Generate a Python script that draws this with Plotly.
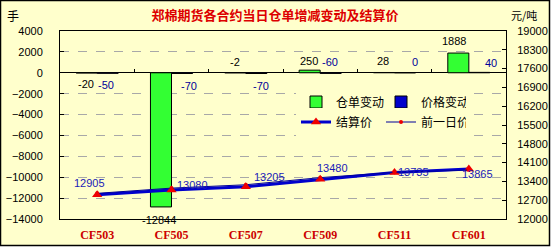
import plotly.graph_objects as go

# ---------------- data ----------------
categories = ["CF503", "CF505", "CF507", "CF509", "CF511", "CF601"]
warrant_change = [-20, -12844, -2, 250, 28, 1888]        # 仓单变动 (手)
price_change = [-50, -70, -70, -60, 0, 40]              # 价格变动 (元/吨)
settle_price = [12905, 13080, 13205, 13480, 13735, 13865]  # 结算价
prev_price = [12955, 13150, 13275, 13540, 13735, 13825]    # 前一日价

title_text = "郑棉期货各合约当日仓单增减变动及结算价"

# ---------------- style ----------------
BG = "#FFFFCC"
GREEN = "#33FF33"
BLUE = "#0000CC"
RED = "#DD0000"
NUM_FONT = "Arial"
CJK_FONT = "Noto Sans CJK SC"

# label pixel offsets (style only)
warrant_off = [(-11, -11.5), (-12.5, -13), (-11, 11), (-11, 9), (-11.5, 11), (-15, 12)]
price_off = [(9, -12), (17, -12.5), (15, -12), (10, 11), (20.5, 11), (22, 9)]
settle_off = [(-7.5, 12), (21, 5), (23.5, 10), (12, 11), (18.5, 0), (8.7, -5)]

fig = go.Figure()

fig.add_trace(go.Bar(
    x=categories, y=warrant_change, name="仓单变动",
    marker=dict(color=GREEN, line=dict(color="black", width=1)),
    xaxis="x", yaxis="y", legend="legend", hoverinfo="x+y",
))
fig.add_trace(go.Bar(
    x=categories, y=price_change, name="价格变动",
    marker=dict(color=BLUE, line=dict(color="black", width=1)),
    xaxis="x", yaxis="y", legend="legend", hoverinfo="x+y",
))
fig.add_trace(go.Scatter(
    x=categories, y=settle_price, name="结算价", mode="lines+markers",
    line=dict(color=BLUE, width=3),
    marker=dict(symbol="triangle-up", color="#EE0000", size=9),
    xaxis="x", yaxis="y2", legend="legend2",
))
fig.add_trace(go.Scatter(
    x=categories, y=prev_price, name="前一日价", mode="lines+markers",
    line=dict(color="#000099", width=1),
    marker=dict(symbol="circle", color="#EE0000", size=4),
    xaxis="x", yaxis="y2", legend="legend2",
))
# invisible helper so the zero-crossing category axis gets its categories
fig.add_trace(go.Scatter(
    x=categories, y=warrant_change, mode="markers", marker=dict(opacity=0),
    xaxis="x2", yaxis="y", showlegend=False, hoverinfo="skip",
))

annotations = []
for c, v, (dx, dy) in zip(categories, warrant_change, warrant_off):
    annotations.append(dict(x=c, y=v, xref="x", yref="y", text=str(v), showarrow=False,
                            xshift=dx, yshift=dy, font=dict(family=NUM_FONT, size=11, color="black")))
for c, v, (dx, dy) in zip(categories, price_change, price_off):
    annotations.append(dict(x=c, y=v, xref="x", yref="y", text=str(v), showarrow=False,
                            xshift=dx, yshift=dy, font=dict(family=NUM_FONT, size=11, color="#000099")))
for c, v, (dx, dy) in zip(categories, settle_price, settle_off):
    annotations.append(dict(x=c, y=v, xref="x", yref="y2", text=str(v), showarrow=False,
                            xshift=dx, yshift=dy, font=dict(family=NUM_FONT, size=11, color="#1A1AB8")))
annotations.append(dict(x=(13 - 60) / 446, y=(219 - 15) / 188, xref="paper", yref="paper", text="手",
                        xanchor="center", yanchor="middle",
                        showarrow=False, font=dict(family=CJK_FONT, size=12, color="black")))
annotations.append(dict(x=(524 - 60) / 446, y=(219 - 15) / 188, xref="paper", yref="paper", text="元/吨",
                        xanchor="center", yanchor="middle",
                        showarrow=False, font=dict(family=CJK_FONT, size=11, color="black")))

legend_common = dict(orientation="h", xanchor="left", yanchor="middle", bgcolor=BG,
                     borderwidth=0, font=dict(family=CJK_FONT, size=12, color="black"),
                     entrywidth=40, itemwidth=30, itemclick=False, itemdoubleclick=False)

fig.update_layout(
    width=555, height=250,
    margin=dict(l=60, r=49, t=31, b=31, autoexpand=False),
    paper_bgcolor="white", plot_bgcolor=BG,
    barmode="group", bargap=0.434, bargroupgap=0,
    title=dict(text=f"<b>{title_text}</b>", x=275 / 555, xref="container", xanchor="center",
               y=1 - 15 / 250, yref="container", yanchor="middle", automargin=False,
               font=dict(family=CJK_FONT, size=13, color=RED)),
    legend=dict(x=(296 - 60) / 446, y=(219 - 102) / 188, **legend_common),
    legend2=dict(x=(296 - 60) / 446, y=(219 - 122) / 188, **legend_common),
    xaxis=dict(type="category", categoryorder="array", categoryarray=categories,
               range=[-0.5, 5.5], showline=True, linecolor="black", linewidth=1, mirror=True,
               ticks="", showgrid=False, ticklabelstandoff=5, automargin=False,
               tickfont=dict(family="Liberation Serif", size=12, color="#CC0000", weight="bold")),
    xaxis2=dict(type="category", categoryorder="array", categoryarray=categories,
                range=[-0.5, 5.5], overlaying="x", anchor="free", position=14000 / 18000,
                side="bottom", showline=False, showgrid=False, showticklabels=False, automargin=False,
                ticks="inside", ticklen=4, tickcolor="black", tickson="boundaries"),
    yaxis=dict(range=[-14000, 4000], tick0=0, dtick=2000, showline=True, linecolor="black",
               linewidth=1, ticks="inside", ticklen=4, tickcolor="black",
               showgrid=True, gridcolor="#A8A8A8", griddash="dash", gridwidth=1,
               zeroline=True, zerolinecolor="black", zerolinewidth=1,
               tickformat="d", ticklabelstandoff=14, automargin=False,
               tickfont=dict(family=NUM_FONT, size=11, color="black")),
    yaxis2=dict(range=[12000, 19000], tick0=12000, dtick=700, overlaying="y", side="right",
                showline=True, linecolor="black", linewidth=1, ticks="inside", ticklen=4,
                tickcolor="black", showgrid=False, zeroline=False, tickformat="d",
                ticklabelstandoff=8, automargin=False,
                tickfont=dict(family=NUM_FONT, size=11, color="black")),
    annotations=annotations,
    shapes=[dict(type="rect", xref="paper", yref="paper", layer="below",
                 x0=(0.5 - 60) / 446, x1=(549.5 - 60) / 446,
                 y0=(219 - 245.5) / 188, y1=(219 - 0.5) / 188,
                 fillcolor=BG, line=dict(color="black", width=1.5))],
    showlegend=True,
)

fig.write_html("out.html")
